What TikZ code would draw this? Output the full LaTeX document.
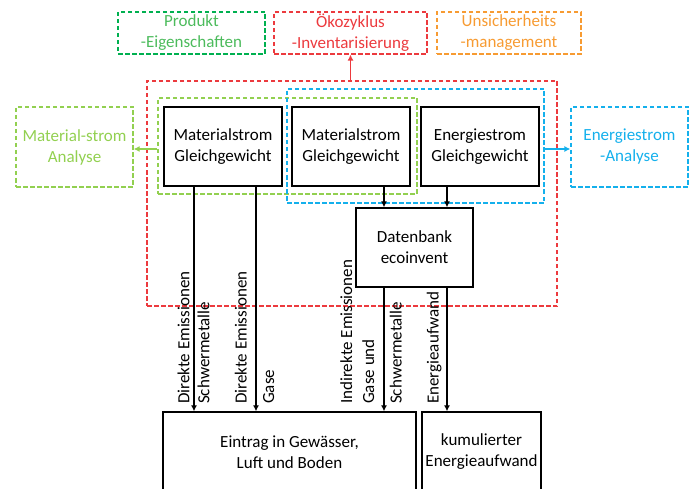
\documentclass[tikz,border=0pt]{standalone}
\usepackage{fontspec}
\setmainfont{Carlito}
\usetikzlibrary{arrows.meta}

\definecolor{prodgreen}{HTML}{00B050}
\definecolor{prodtext}{HTML}{4CBB5C}
\definecolor{matgreen}{HTML}{92D050}
\definecolor{oekored}{HTML}{EC3A3E}
\definecolor{unsorange}{HTML}{F79B32}
\definecolor{enblue}{HTML}{14B0EC}

\begin{document}
\begin{tikzpicture}[x=1pt,y=-1pt,
	font=\fontsize{17}{21}\selectfont,
	blackbox/.style={draw,line width=1.3pt,minimum width=118pt,minimum height=79pt,align=center,inner sep=0pt},
	dashbox/.style={draw,dash pattern=on 4.5pt off 2.5pt,line width=1.2pt,align=center,inner sep=0pt},
	flow/.style={line width=1.3pt,-{Latex[length=6pt,width=6pt]}},
	emission/.style={rotate=90,anchor=base west,inner sep=0pt}]
	\useasboundingbox (0,0) rectangle (690,489);

	% ueberschriften
	\node[dashbox,draw=prodgreen,text=prodtext,minimum width=147pt,minimum height=42pt] (produkt) at (191.5,33) {Produkt\\-Eigenschaften};
	\node[dashbox,draw=oekored,text=oekored,minimum width=153pt,minimum height=42pt] (oeko) at (350.5,33) {Ökozyklus\\-Inventarisierung};
	\node[dashbox,draw=unsorange,text=unsorange,minimum width=144pt,minimum height=42pt] (unsicher) at (509,33) {Unsicherheits\\-management};

	% rahmen
	\node[dashbox,draw=oekored,minimum width=410pt,minimum height=225pt] (oekorahmen) at (352,193.5) {};
	\node[dashbox,draw=matgreen,minimum width=259pt,minimum height=96pt] (matrahmen) at (287.5,146) {};
	\node[dashbox,draw=enblue,minimum width=257pt,minimum height=114pt] (enrahmen) at (415.5,146) {};

	\node[dashbox,draw=matgreen,text=matgreen,minimum width=117pt,minimum height=80pt] (matanalyse) at (74.5,147) {Material-strom\\Analyse};
	\node[dashbox,draw=enblue,text=enblue,minimum width=117pt,minimum height=80pt] (enanalyse) at (629.5,147) {Energiestrom\\-Analyse};

	% gleichgewichte
	\node[blackbox] (mat1) at (223,146.5) {Materialstrom\\Gleichgewicht};
	\node[blackbox] (mat2) at (351,146.5) {Materialstrom\\Gleichgewicht};
	\node[blackbox] (energie) at (480,146.5) {Energiestrom\\Gleichgewicht};
	\node[blackbox,minimum width=117pt] (datenbank) at (414.5,247.5) {Datenbank\\ecoinvent};

	\node[blackbox,minimum width=253pt,minimum height=80pt] (eintrag) at (289.5,452) {Eintrag in Gewässer,\\Luft und Boden};
	\node[blackbox,minimum width=119pt,minimum height=80pt] (kea) at (481.5,452) {kumulierter\\Energieaufwand};

	% farbige pfeile
	\draw[flow,oekored] (oeko.south |- oekorahmen.north) -- (oeko.south);
	\draw[flow,matgreen] (matrahmen.west |- 0,149) -- (matanalyse.east |- 0,149);
	\draw[flow,enblue] (enrahmen.east |- 0,149) -- (enanalyse.west |- 0,149);

	% stroeme
	\coordinate (x1) at (194,0);
	\coordinate (x2) at (256,0);
	\coordinate (x3) at (384,0);
	\coordinate (x4) at (447,0);
	\draw[flow] (mat2.south -| x3) -- (datenbank.north -| x3);
	\draw[flow] (energie.south -| x4) -- (datenbank.north -| x4);
	\draw[flow] (mat1.south -| x1) -- (eintrag.north -| x1);
	\draw[flow] (mat1.south -| x2) -- (eintrag.north -| x2);
	\draw[flow] (datenbank.south -| x3) -- (eintrag.north -| x3);
	\draw[flow] (datenbank.south -| x4) -- (kea.north -| x4);

	\node[emission] (l1a) at (189.3,404) {Direkte Emissionen};
	\node[emission] (l1b) at (209.3,404) {Schwermetalle};
	\node[emission] (l2a) at (246.7,404) {Direkte Emissionen};
	\node[emission] (l2b) at (274,404) {Gase};
	\node[emission] (l3a) at (352,404) {Indirekte Emissionen};
	\node[emission] (l3b) at (374,404) {Gase und};
	\node[emission] (l3c) at (401.7,404) {Schwermetalle};
	\node[emission] (l4a) at (438.7,404) {Energieaufwand};
\end{tikzpicture}
\end{document}
